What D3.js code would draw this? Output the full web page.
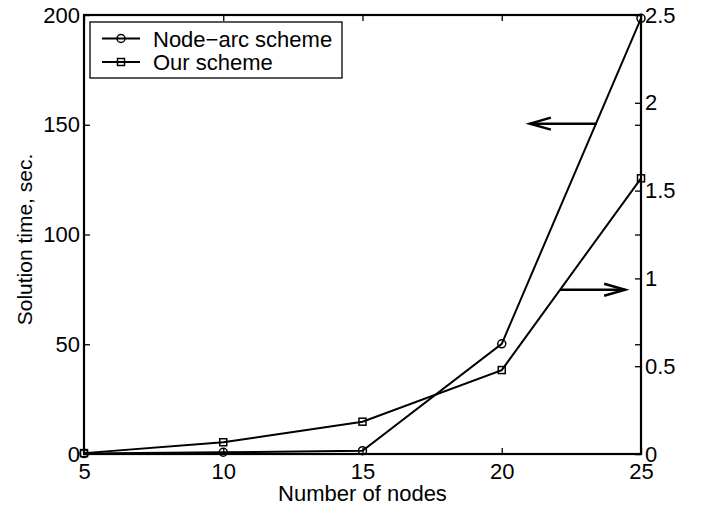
<!DOCTYPE html>
<html>
<head>
<meta charset="utf-8">
<script src="https://cdn.jsdelivr.net/npm/d3@7"></script>
<style>
  body { margin: 0; background: #fff; }
  text { font-family: "Liberation Sans", Arial, sans-serif; fill: #000; }
</style>
</head>
<body>
<script>
  var nodes = [5, 10, 15, 20, 25];
  var nodeArc = [0.2, 0.8, 1.5, 50.2, 198.5];      // left axis, sec.
  var ourScheme = [0.005, 0.067, 0.184, 0.478, 1.57]; // right axis
  var xTicks = [5, 10, 15, 20, 25];
  var yLeftTicks = [0, 50, 100, 150, 200];
  var yRightTicks = [0, 0.5, 1, 1.5, 2, 2.5];
  var legendNames = ["Node\u2212arc scheme", "Our scheme"];

  var W = 703, H = 508;
  var margin = {top: 15, right: 62, bottom: 54, left: 84};
  var width = W - margin.left - margin.right;
  var height = H - margin.top - margin.bottom;

  var xScale = d3.scaleLinear().domain([5, 25]).range([0, width]);
  var yLeft = d3.scaleLinear().domain([0, 200]).range([height, 0]);
  var yRight = d3.scaleLinear().domain([0, 2.5]).range([height, 0]);

  var svg = d3.select("body").append("svg")
    .attr("width", W)
    .attr("height", H);

  var g = svg.append("g")
    .attr("transform", "translate(" + margin.left + "," + margin.top + ")");

  function styleAxis(sel) {
    sel.selectAll(".domain").remove();
    sel.selectAll(".tick line").attr("stroke", "#000").attr("stroke-width", 1.3);
    sel.selectAll("text").attr("font-size", "22px").attr("fill", "#000");
  }

  // bottom axis: ticks pointing inward
  var xAxisG = g.append("g")
    .attr("transform", "translate(0," + height + ")")
    .call(d3.axisBottom(xScale).tickValues(xTicks).tickSizeInner(-6).tickSizeOuter(0)
      .tickFormat(d3.format("d")));
  styleAxis(xAxisG);
  xAxisG.selectAll("text").attr("y", 25).attr("dy", 0);

  // top mirrored ticks
  var xTopG = g.append("g")
    .call(d3.axisTop(xScale).tickValues(xTicks).tickSizeInner(-6).tickSizeOuter(0).tickFormat(""));
  styleAxis(xTopG);

  // left axis
  var yLeftG = g.append("g")
    .call(d3.axisLeft(yLeft).tickValues(yLeftTicks).tickSizeInner(-6).tickSizeOuter(0));
  styleAxis(yLeftG);
  yLeftG.selectAll("text").attr("x", -4);

  // left ticks mirrored on the right side
  var yLeftMirror = g.append("g")
    .attr("transform", "translate(" + width + ",0)")
    .call(d3.axisRight(yLeft).tickValues(yLeftTicks).tickSizeInner(-6).tickSizeOuter(0).tickFormat(""));
  styleAxis(yLeftMirror);

  // right axis
  var yRightG = g.append("g")
    .attr("transform", "translate(" + width + ",0)")
    .call(d3.axisRight(yRight).tickValues(yRightTicks).tickSizeInner(-6).tickSizeOuter(0)
      .tickFormat(function(d) { return d3.format("")(d); }));
  styleAxis(yRightG);
  yRightG.selectAll("text").attr("x", 4);

  // box
  g.append("rect")
    .attr("x", 0).attr("y", 0)
    .attr("width", width).attr("height", height)
    .attr("fill", "none").attr("stroke", "#000").attr("stroke-width", 2.2);

  // lines
  var lineLeft = d3.line()
    .x(function(d, i) { return xScale(nodes[i]); })
    .y(function(d) { return yLeft(d); });
  var lineRight = d3.line()
    .x(function(d, i) { return xScale(nodes[i]); })
    .y(function(d) { return yRight(d); });

  g.append("path").datum(nodeArc)
    .attr("d", lineLeft)
    .attr("fill", "none").attr("stroke", "#000").attr("stroke-width", 2);

  g.append("path").datum(ourScheme)
    .attr("d", lineRight)
    .attr("fill", "none").attr("stroke", "#000").attr("stroke-width", 2);

  g.selectAll("circle.na")
    .data(nodeArc)
    .enter()
    .append("circle")
    .attr("class", "na")
    .attr("cx", function(d, i) { return xScale(nodes[i]); })
    .attr("cy", function(d) { return yLeft(d); })
    .attr("r", 4)
    .attr("fill", "none").attr("stroke", "#000").attr("stroke-width", 1.5);

  g.selectAll("rect.os")
    .data(ourScheme)
    .enter()
    .append("rect")
    .attr("class", "os")
    .attr("x", function(d, i) { return xScale(nodes[i]) - 3.5; })
    .attr("y", function(d) { return yRight(d) - 3.5; })
    .attr("width", 7).attr("height", 7)
    .attr("fill", "none").attr("stroke", "#000").attr("stroke-width", 1.5);

  // arrows pointing to each curve's axis
  function arrow(x1, x2, y) {
    var dir = x2 > x1 ? 1 : -1;
    g.append("line")
      .attr("x1", x1).attr("x2", x2).attr("y1", y).attr("y2", y)
      .attr("stroke", "#000").attr("stroke-width", 2.5);
    g.append("path")
      .attr("d", "M" + (x2 - dir * 21) + "," + (y - 6) + " L" + x2 + "," + y + " L" + (x2 - dir * 21) + "," + (y + 6))
      .attr("fill", "none").attr("stroke", "#000").attr("stroke-width", 2.5);
  }
  arrow(xScale(23.42), xScale(21.01), yLeft(150.5));
  arrow(xScale(22.09), xScale(24.43), yRight(0.935));

  // legend
  var leg = g.append("g").attr("transform", "translate(6,7)");
  leg.append("rect")
    .attr("x", 0).attr("y", 0).attr("width", 252).attr("height", 56)
    .attr("fill", "#fff").attr("stroke", "#000").attr("stroke-width", 1.3);
  legendNames.forEach(function(name, i) {
    var ly = 16.5 + i * 23.5;
    leg.append("line")
      .attr("x1", 12).attr("x2", 50).attr("y1", ly).attr("y2", ly)
      .attr("stroke", "#000").attr("stroke-width", 2);
    if (i === 0) {
      leg.append("circle").attr("cx", 31).attr("cy", ly).attr("r", 4)
        .attr("fill", "none").attr("stroke", "#000").attr("stroke-width", 1.5);
    } else {
      leg.append("rect").attr("x", 27.5).attr("y", ly - 3.5).attr("width", 7).attr("height", 7)
        .attr("fill", "none").attr("stroke", "#000").attr("stroke-width", 1.5);
    }
    leg.append("text")
      .attr("x", 63).attr("y", ly + 8)
      .attr("font-size", "22px")
      .text(name);
  });

  // axis labels
  svg.append("text")
    .attr("x", margin.left + width / 2).attr("y", 501)
    .attr("text-anchor", "middle")
    .attr("font-size", "22px")
    .text("Number of nodes");

  svg.append("text")
    .attr("transform", "translate(32," + (margin.top + height / 2 + 5) + ") rotate(-90)")
    .attr("text-anchor", "middle")
    .attr("font-size", "21px")
    .text("Solution time, sec.");
</script>
</body>
</html>
